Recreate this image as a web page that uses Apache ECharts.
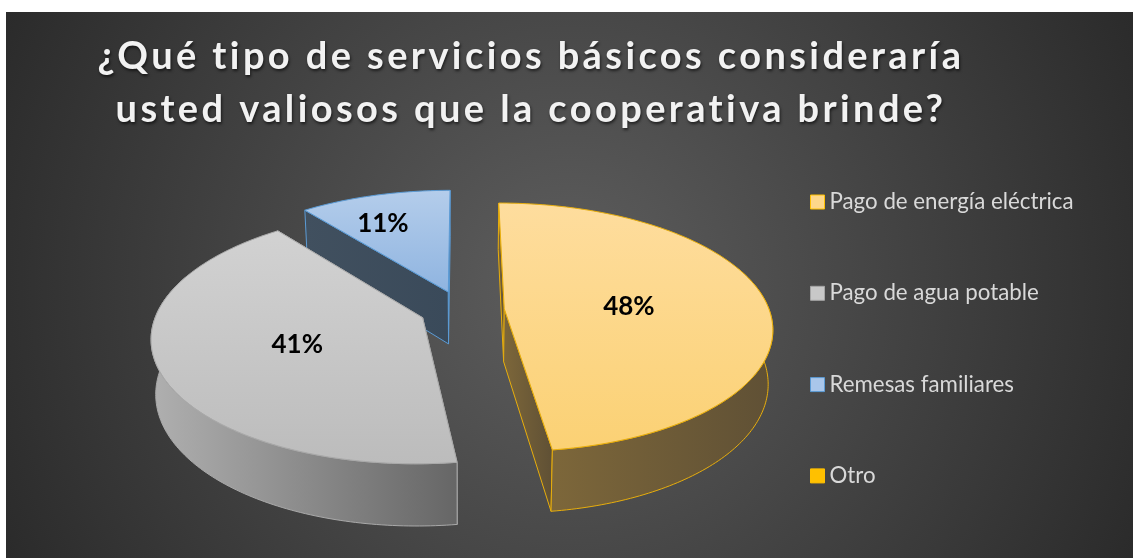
<!DOCTYPE html>
<html>
<head>
<meta charset="utf-8">
<style>
  html, body { margin: 0; padding: 0; background: #fff; }
  #chart { width: 1133px; height: 558px; }
</style>
<script src="https://cdn.jsdelivr.net/npm/echarts@6/dist/echarts.min.js"></script>
</head>
<body>
<div id="chart"></div>
<script>
const chartTitle = '¿Qué tipo de servicios básicos consideraría\nusted valiosos que la cooperativa brinde?';
const categories = ['Pago de energía eléctrica', 'Pago de agua potable', 'Remesas familiares', 'Otro'];
const values = [47.9, 41.4, 10.7, 0];

// colores: cara superior (arriba, abajo), borde, pared (izq, der), leyenda
const topColors = [['#fedd9e', '#fbd174'], ['#d2d2d2', '#bcbcbc'], ['#b4cdeb', '#8fb4e0'], ['#ffc000', '#ffc000']];
const lineColors = ['#e8ae0c', '#a9a9a9', '#5b9bd5', '#ffc000'];
const wallColors = [['#7d673a', '#5f5035'], ['#b0b0b0', '#666666'], ['#41505f', '#3a4a5a'], ['#ffc000', '#ffc000']];
const legendColors = ['#fdd78a', '#c8c8c8', '#a9c6ea', '#ffc000'];
const legendBorders = ['#ffc000', '#a5a5a5', '#5b9bd5', '#ffc000'];

// proyeccion del pastel 3D
const cx = 462, cy = 310;
const rx = 265, ry = 121.8;
const persp = 0.149;
const explode = 0.16;
const bottomScaleX = 0.985, bottomScaleY = 1.06, depth = 53;
const labelRadius = [0.475, 0.49, 0.70, 0];
const labelShiftX = [0, 0, -12, 0];

const total = values.reduce((a, b) => a + b, 0);

const project = (X, Y) => {
  const s = 1 / (1 - persp * Y);
  return [cx + rx * X * s, cy + ry * Y * s];
};

const lower = (p) => [cx + bottomScaleX * (p[0] - cx), cy + depth + bottomScaleY * (p[1] - cy)];

const sliceAngles = (idx) => {
  const before = values.slice(0, idx).reduce((a, b) => a + b, 0);
  return [before / total * 360, (before + values[idx]) / total * 360];
};

const rad = (deg) => deg * Math.PI / 180;

const renderSlice = (idx) => (params, api) => {
  const value = api.value(0);
  if (!value) {
    return { type: 'group', children: [] };
  }
  const [start, end] = sliceAngles(idx);
  const mid = rad((start + end) / 2);
  const ox = explode * Math.sin(mid);
  const oy = -explode * Math.cos(mid);
  const point = (deg, r) => project(ox + r * Math.sin(rad(deg)), oy - r * Math.cos(rad(deg)));
  const arc = (from, to) => {
    const pts = [];
    const n = Math.max(2, Math.ceil(Math.abs(to - from)));
    for (let i = 0; i <= n; i++) {
      pts.push(point(from + (to - from) * i / n, 1));
    }
    return pts;
  };
  const apex = point(0, 0);
  const z2 = 10 - idx * 3;
  const wallLine = { stroke: lineColors[idx], lineWidth: 1, lineJoin: 'round' };
  const horizontal = (colors) => ({
    type: 'linear', x: 0, y: 0, x2: 1, y2: 0,
    colorStops: [{ offset: 0, color: colors[0] }, { offset: 1, color: colors[1] }]
  });
  const children = [];
  const wall = (pts) => {
    children.push({
      type: 'polygon',
      z2: z2,
      shape: { points: pts.concat(pts.map(lower).reverse()) },
      style: Object.assign({ fill: horizontal(wallColors[idx]) }, wallLine)
    });
  };
  // paredes radiales
  wall([point(start, 1), apex]);
  wall([apex, point(end, 1)]);
  // pared exterior, solo la parte de delante
  const from = Math.max(start, 70);
  const to = Math.min(end, 290);
  if (to > from) {
    wall(arc(from, to));
  }
  // cara superior
  children.push({
    type: 'polygon',
    z2: z2 + 1,
    shape: { points: [apex].concat(arc(start, end)) },
    style: {
      fill: {
        type: 'linear', x: 0, y: 0, x2: 0, y2: 1,
        colorStops: [{ offset: 0, color: topColors[idx][0] }, { offset: 1, color: topColors[idx][1] }]
      },
      stroke: lineColors[idx],
      lineWidth: 1,
      lineJoin: 'round'
    }
  });
  const lp = point((start + end) / 2, labelRadius[idx]);
  children.push({
    type: 'text',
    z2: 30,
    style: {
      text: Math.round(value / total * 100) + '%',
      x: lp[0] + labelShiftX[idx],
      y: lp[1] + 2,
      align: 'center',
      verticalAlign: 'middle',
      fill: '#000',
      font: 'bold 26px Lato'
    }
  });
  return { type: 'group', children: children };
};

const myChart = echarts.init(document.getElementById('chart'));

// el titulo va en su propia capa para poder darle espacio entre letras
myChart.getZr().painter.getLayer(1).ctx.letterSpacing = '3.4px';

myChart.setOption({
  animation: false,
  backgroundColor: '#fff',
  graphic: [{
    type: 'rect',
    z: -10,
    shape: { x: 6, y: 12, width: 1127, height: 546 },
    style: {
      fill: {
        type: 'radial', x: 0.5, y: 0.5, r: 1.14,
        colorStops: [{ offset: 0, color: '#5e5e5e' }, { offset: 1, color: '#2b2b2b' }]
      }
    }
  }],
  title: {
    text: chartTitle,
    left: 526,
    top: 25,
    zlevel: 1,
    textAlign: 'center',
    textStyle: {
      color: '#f2f2f2',
      fontFamily: 'Lato',
      fontWeight: 'bold',
      fontSize: 38,
      lineHeight: 53,
      textShadowColor: 'rgba(0,0,0,0.6)',
      textShadowBlur: 3,
      textShadowOffsetX: 1,
      textShadowOffsetY: 2
    }
  },
  legend: {
    orient: 'vertical',
    left: 805,
    top: 186,
    itemWidth: 14,
    itemHeight: 14,
    itemGap: 69.3,
    selectedMode: false,
    textStyle: {
      color: '#d9d9d9',
      fontFamily: 'Lato',
      fontSize: 22.3,
      padding: [0, 0, 0, 0]
    },
    data: categories.map((name, i) => ({
      name: name,
      icon: 'rect',
      itemStyle: { color: legendColors[i], borderColor: legendBorders[i], borderWidth: 1 }
    }))
  },
  series: categories.map((name, i) => ({
    type: 'custom',
    name: name,
    coordinateSystem: 'none',
    silent: true,
    itemStyle: { color: legendColors[i] },
    renderItem: renderSlice(i),
    data: [[values[i]]]
  }))
});
</script>
</body>
</html>
